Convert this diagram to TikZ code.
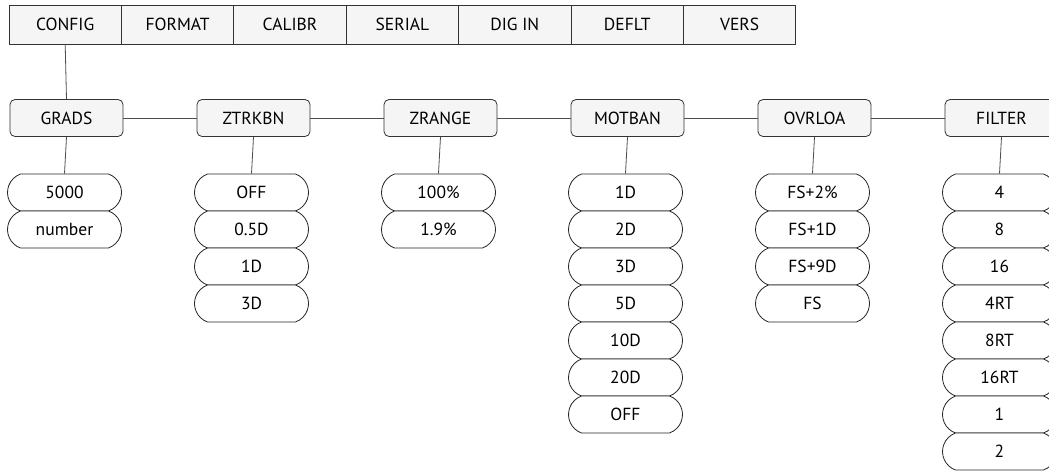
\documentclass[tikz,border=0pt]{standalone}
\usepackage{fontspec}
\setmainfont{PT Sans}
\usetikzlibrary{shapes.misc}
\begin{document}
\begin{tikzpicture}[x=1pt,y=-1pt,
  lbl/.style={font=\fontsize{17.5}{20}\selectfont},
  menubox/.style={lbl, draw=black!80, fill=black!4, minimum width=112.4pt, minimum height=39pt, inner sep=0pt, line width=0.8pt},
  parbox/.style={lbl, draw=black!80, fill=black!4, rounded corners=5pt, minimum width=113pt, minimum height=37pt, inner sep=0pt, line width=0.8pt},
  valbox/.style={lbl, rounded rectangle, rounded rectangle arc length=140, draw=black!85, fill=white, minimum width=114pt, minimum height=37pt, inner sep=0pt, line width=0.8pt},
  link/.style={draw=black!70, line width=0.8pt}]
\useasboundingbox (0,0) rectangle (1049,472);
\clip (0,0) rectangle (1049,472);
% top menu
\foreach \t [count=\i] in {CONFIG,FORMAT,CALIBR,SERIAL,DIG IN,DEFLT,VERS}
  \node[menubox] (t\i) at ({9+112.4*(\i-0.5)},24.5) {\t};
% parameter boxes
\foreach \t [count=\i] in {GRADS,ZTRKBN,ZRANGE,MOTBAN,OVRLOA,FILTER}
  \node[parbox] (m\i) at ({66.5+187*(\i-1)},118) {\t};
\draw[link] (t1.south) -- (m1.north);
\foreach \i [evaluate=\i as \j using int(\i+1)] in {1,...,5}
  \draw[link] (m\i.east) -- (m\j.west);
% value pills
\newcommand{\valcol}[2]{%
  \foreach \v [count=\k] in {#2}
    \node[valbox] (p#1\k) at ({64.5+187*(#1-1)},{192.5+37*(\k-1)}) {\v};
  \draw[link] (m#1.south) -- (p#11.north);
}
\valcol{1}{5000,number}
\valcol{2}{OFF,0.5D,1D,3D}
\valcol{3}{100\%,1.9\%}
\valcol{4}{1D,2D,3D,5D,10D,20D,OFF}
\valcol{5}{FS+2\%,FS+1D,FS+9D,FS}
\valcol{6}{4,8,16,4RT,8RT,16RT,1,2}
\end{tikzpicture}
\end{document}
